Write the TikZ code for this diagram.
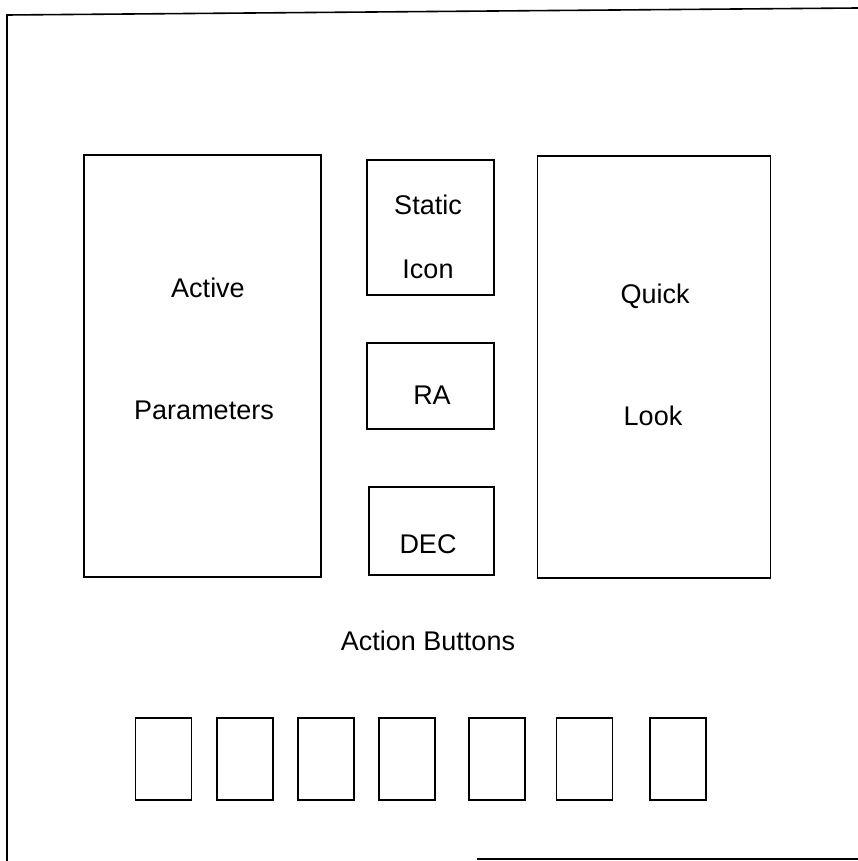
\documentclass[tikz,border=0pt]{standalone}
\usepackage{fontspec}
\setmainfont{Liberation Sans}
\begin{document}
\begin{tikzpicture}[x=1pt,y=-1pt,line width=1.6pt,
  panel/.style={draw,rectangle,inner sep=0pt},
  btn/.style={panel,minimum width=56pt,minimum height=82pt},
  lbl/.style={anchor=base,inner sep=0pt,font=\fontsize{27}{32}\selectfont}]
  \useasboundingbox (0,0) rectangle (858,861);
  % outer frame
  \draw (7,861) -- (7,15) -- (858,8);
  \draw (477,859) -- (858,859);
  % panels
  \node[panel,minimum width=237pt,minimum height=422pt] (act) at (202.5,366) {};
  \node[panel,minimum width=127pt,minimum height=135pt] (icon) at (430.5,227.5) {};
  \node[panel,minimum width=127pt,minimum height=86pt] (ra) at (430.5,386) {};
  \node[panel,minimum width=125pt,minimum height=88pt] (dec) at (431.5,531) {};
  \node[panel,minimum width=233pt,minimum height=422pt] (ql) at (654,367) {};
  % labels
  \node[lbl] (actA) at (208,297) {Active};
  \node[lbl] (actB) at (204,419) {Parameters};
  \node[lbl] (iconA) at (428,214) {Static};
  \node[lbl] (iconB) at (428,278) {Icon};
  \node[lbl] (raL) at (432,404) {RA};
  \node[lbl] (decL) at (428,553) {DEC};
  \node[lbl] (qlA) at (655,303) {Quick};
  \node[lbl] (qlB) at (653,425) {Look};
  \node[lbl] (btns) at (428,650) {Action Buttons};
  % action buttons
  \foreach \i/\x in {1/163.5,2/245,3/326,4/407,5/497,6/584.5,7/678}{
    \node[btn] (b\i) at (\x,759) {};}
\end{tikzpicture}
\end{document}
